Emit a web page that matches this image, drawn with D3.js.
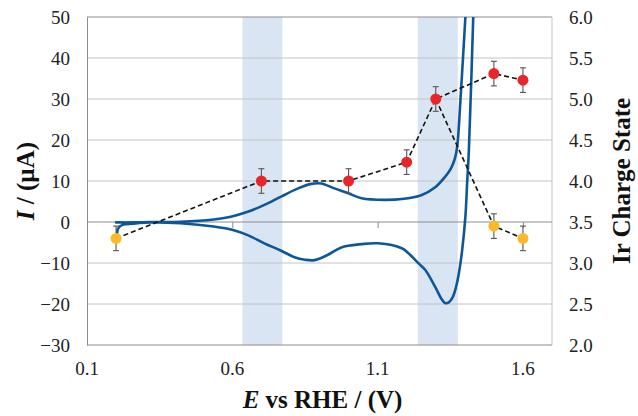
<!DOCTYPE html>
<html><head><meta charset="utf-8">
<script src="https://cdn.jsdelivr.net/npm/d3@7/dist/d3.min.js"></script>
<style>body{margin:0;background:#fff}svg{display:block}</style>
</head><body>
<svg id="c" width="638" height="416"></svg>
<script>
// ---- data ----
const xTicks = [0.1, 0.6, 1.1, 1.6];
const yTicks = [-30, -20, -10, 0, 10, 20, 30, 40, 50];
const y2Ticks = [2.0, 2.5, 3.0, 3.5, 4.0, 4.5, 5.0, 5.5, 6.0];
const bands = [[0.635, 0.772], [1.238, 1.376]];
// CV: anodic sweep then cathodic return (E in V, I in µA)
const cvE = [0.200,0.259,0.318,0.422,0.536,0.595,0.653,0.705,0.768,0.826,0.872,0.906,0.951,0.999,1.045,1.125,1.183,1.252,1.297,1.332,1.352,1.366,1.374,1.385,1.402,1.412,
             1.434,1.429,1.414,1.408,1.402,1.391,1.380,1.370,1.358,1.345,1.333,1.320,1.298,1.264,1.241,1.206,1.183,1.102,1.045,0.975,0.929,0.883,0.850,0.814,0.768,0.710,0.653,0.605,0.536,0.422,0.318,0.259,0.222,0.207,0.2035];
const cvI = [-0.1,-0.1,0.0,0.05,0.6,1.3,2.5,4.0,6.2,8.2,9.3,9.4,8.2,7.0,5.8,5.4,5.6,6.6,8.4,11.0,13.0,15.5,18.5,29.8,50,62,
             62,50,17.6,9.5,1.3,-6.8,-12.3,-15.8,-18.4,-19.6,-19.8,-18.8,-15.8,-11.7,-10.1,-7.6,-6.4,-5.2,-5.4,-6.2,-8.0,-9.3,-9.2,-8.6,-7.0,-5.2,-3.2,-2.0,-1.1,-0.3,-0.1,-0.4,-0.7,-1.6,-3.4];
// Ir charge state (right axis)
const chargeE = [0.2, 0.7, 1.0, 1.2, 1.3, 1.5, 1.6, 1.5, 1.6];
const chargeV = [3.30, 4.00, 4.00, 4.23, 5.00, 5.31, 5.23, 3.45, 3.30];
const chargeErr = [0.15, 0.15, 0.15, 0.15, 0.15, 0.15, 0.15, 0.15, 0.15];
const chargeType = ["y","r","r","r","r","r","r","y","y"];
const lineA = [0, 1, 2, 3, 4, 5, 6];
const lineB = [4, 7, 8];

// ---- layout ----
const svg = d3.select("#c");
const L = 87, R = 552, T = 17, B = 345;
const x = d3.scaleLinear().domain([0.1, 1.7]).range([L, R]);
const y = d3.scaleLinear().domain([-30, 50]).range([B, T]);
const y2 = d3.scaleLinear().domain([2, 6]).range([B, T]);
const serif = "'Liberation Serif','Times New Roman',Times,'DejaVu Serif',serif";

// bands
svg.selectAll(".band").data(bands).join("rect")
  .attr("x", d => x(d[0])).attr("width", d => x(d[1]) - x(d[0]))
  .attr("y", T).attr("height", B - T).attr("fill", "#dae5f3");

// gridlines
svg.append("g").selectAll("line").data(yTicks.filter(t => t !== 0 && t !== -30)).join("line")
  .attr("x1", L).attr("x2", R).attr("y1", d => y(d)).attr("y2", d => y(d))
  .attr("stroke", d => d === 50 ? "#8c8c8c" : "#c4c4c4").attr("stroke-width", 1);

// right border
svg.append("line").attr("x1", R).attr("x2", R).attr("y1", T).attr("y2", B).attr("stroke", "#c4c4c4");

// bottom border
svg.append("line").attr("x1", L).attr("x2", R).attr("y1", B).attr("y2", B).attr("stroke", "#8c8c8c");

// zero axis with ticks
const xAxis = d3.axisBottom(x).tickValues(xTicks).tickSize(6).tickFormat("");
const gx = svg.append("g").attr("transform", `translate(0,${y(0)})`).call(xAxis);
gx.select(".domain").attr("stroke", "#8c8c8c").attr("d", `M${L},0H${R}`);
gx.selectAll(".tick line").attr("stroke", "#8c8c8c");

// x tick labels at bottom
svg.append("g").selectAll("text").data(xTicks).join("text")
  .attr("x", d => x(d)).attr("y", B + 30).attr("text-anchor", "middle")
  .attr("font-family", serif).attr("font-size", 19).attr("fill", "#222")
  .text(d => d3.format(".1f")(d));

// left axis
const gy = svg.append("g").attr("transform", `translate(${L},0)`)
  .call(d3.axisLeft(y).tickValues(yTicks).tickSize(0).tickPadding(17).tickFormat(d3.format("d")));
gy.attr("font-family", serif);
gy.select(".domain").attr("stroke", "#8c8c8c");
gy.selectAll("text").attr("font-family", serif).attr("font-size", 19).attr("fill", "#222");

// right axis
const gy2 = svg.append("g").attr("transform", `translate(${R},0)`)
  .call(d3.axisRight(y2).tickValues(y2Ticks).tickSize(0).tickPadding(17).tickFormat(d3.format(".1f")));
gy2.attr("font-family", serif);
gy2.select(".domain").remove();
gy2.selectAll("text").attr("font-family", serif).attr("font-size", 19).attr("fill", "#222");

// CV curve
svg.append("clipPath").attr("id", "clip").append("rect")
  .attr("x", L).attr("y", T).attr("width", R - L).attr("height", B - T);
const cv = cvE.map((e, i) => [e, cvI[i]]);
svg.append("path").datum(cv).attr("clip-path", "url(#clip)")
  .attr("d", d3.line().x(d => x(d[0])).y(d => y(d[1])).curve(d3.curveCatmullRom.alpha(0.5)))
  .attr("fill", "none").attr("stroke", "#0d5799").attr("stroke-width", 2.6)
  .attr("stroke-linejoin", "round").attr("stroke-linecap", "round");

// dashed lines
const dl = d3.line().x(i => x(chargeE[i])).y(i => y2(chargeV[i]));
[lineA, lineB].forEach(idx => {
  svg.append("path").datum(idx).attr("d", dl).attr("fill", "none")
    .attr("stroke", "#111").attr("stroke-width", 1.6).attr("stroke-dasharray", "5,3");
});

// error bars
const eb = svg.append("g").attr("stroke", "#555").attr("stroke-width", 1.1);
chargeE.forEach((e, i) => {
  const cx = x(e), t = y2(chargeV[i] + chargeErr[i]), b = y2(chargeV[i] - chargeErr[i]);
  eb.append("line").attr("x1", cx).attr("x2", cx).attr("y1", t).attr("y2", b);
  eb.append("line").attr("x1", cx - 3).attr("x2", cx + 3).attr("y1", t).attr("y2", t);
  eb.append("line").attr("x1", cx - 3).attr("x2", cx + 3).attr("y1", b).attr("y2", b);
});

// markers
svg.append("g").selectAll("circle").data(chargeE.map((e, i) => i)).join("circle")
  .attr("cx", i => x(chargeE[i])).attr("cy", i => y2(chargeV[i])).attr("r", 5.5)
  .attr("fill", i => chargeType[i] === "r" ? "#e8262a" : "#fbb829");

// axis titles
const lt = svg.append("text").attr("transform", `translate(34,${(T + B) / 2}) rotate(-90)`)
  .attr("text-anchor", "middle").attr("font-family", serif).attr("font-size", 25)
  .attr("font-weight", "bold").attr("fill", "#111");
lt.append("tspan").attr("font-style", "italic").text("I");
lt.append("tspan").text(" / (µA)");

const bt = svg.append("text").attr("x", (L + R) / 2 + 3).attr("y", 408)
  .attr("text-anchor", "middle").attr("font-family", serif).attr("font-size", 25)
  .attr("font-weight", "bold").attr("fill", "#111");
bt.append("tspan").attr("font-style", "italic").text("E");
bt.append("tspan").text(" vs RHE / (V)");

svg.append("text").attr("transform", `translate(630,${(T + B) / 2}) rotate(-90)`)
  .attr("text-anchor", "middle").attr("font-family", serif).attr("font-size", 25)
  .attr("font-weight", "bold").attr("fill", "#111").text("Ir Charge State");
</script>
</body></html>
